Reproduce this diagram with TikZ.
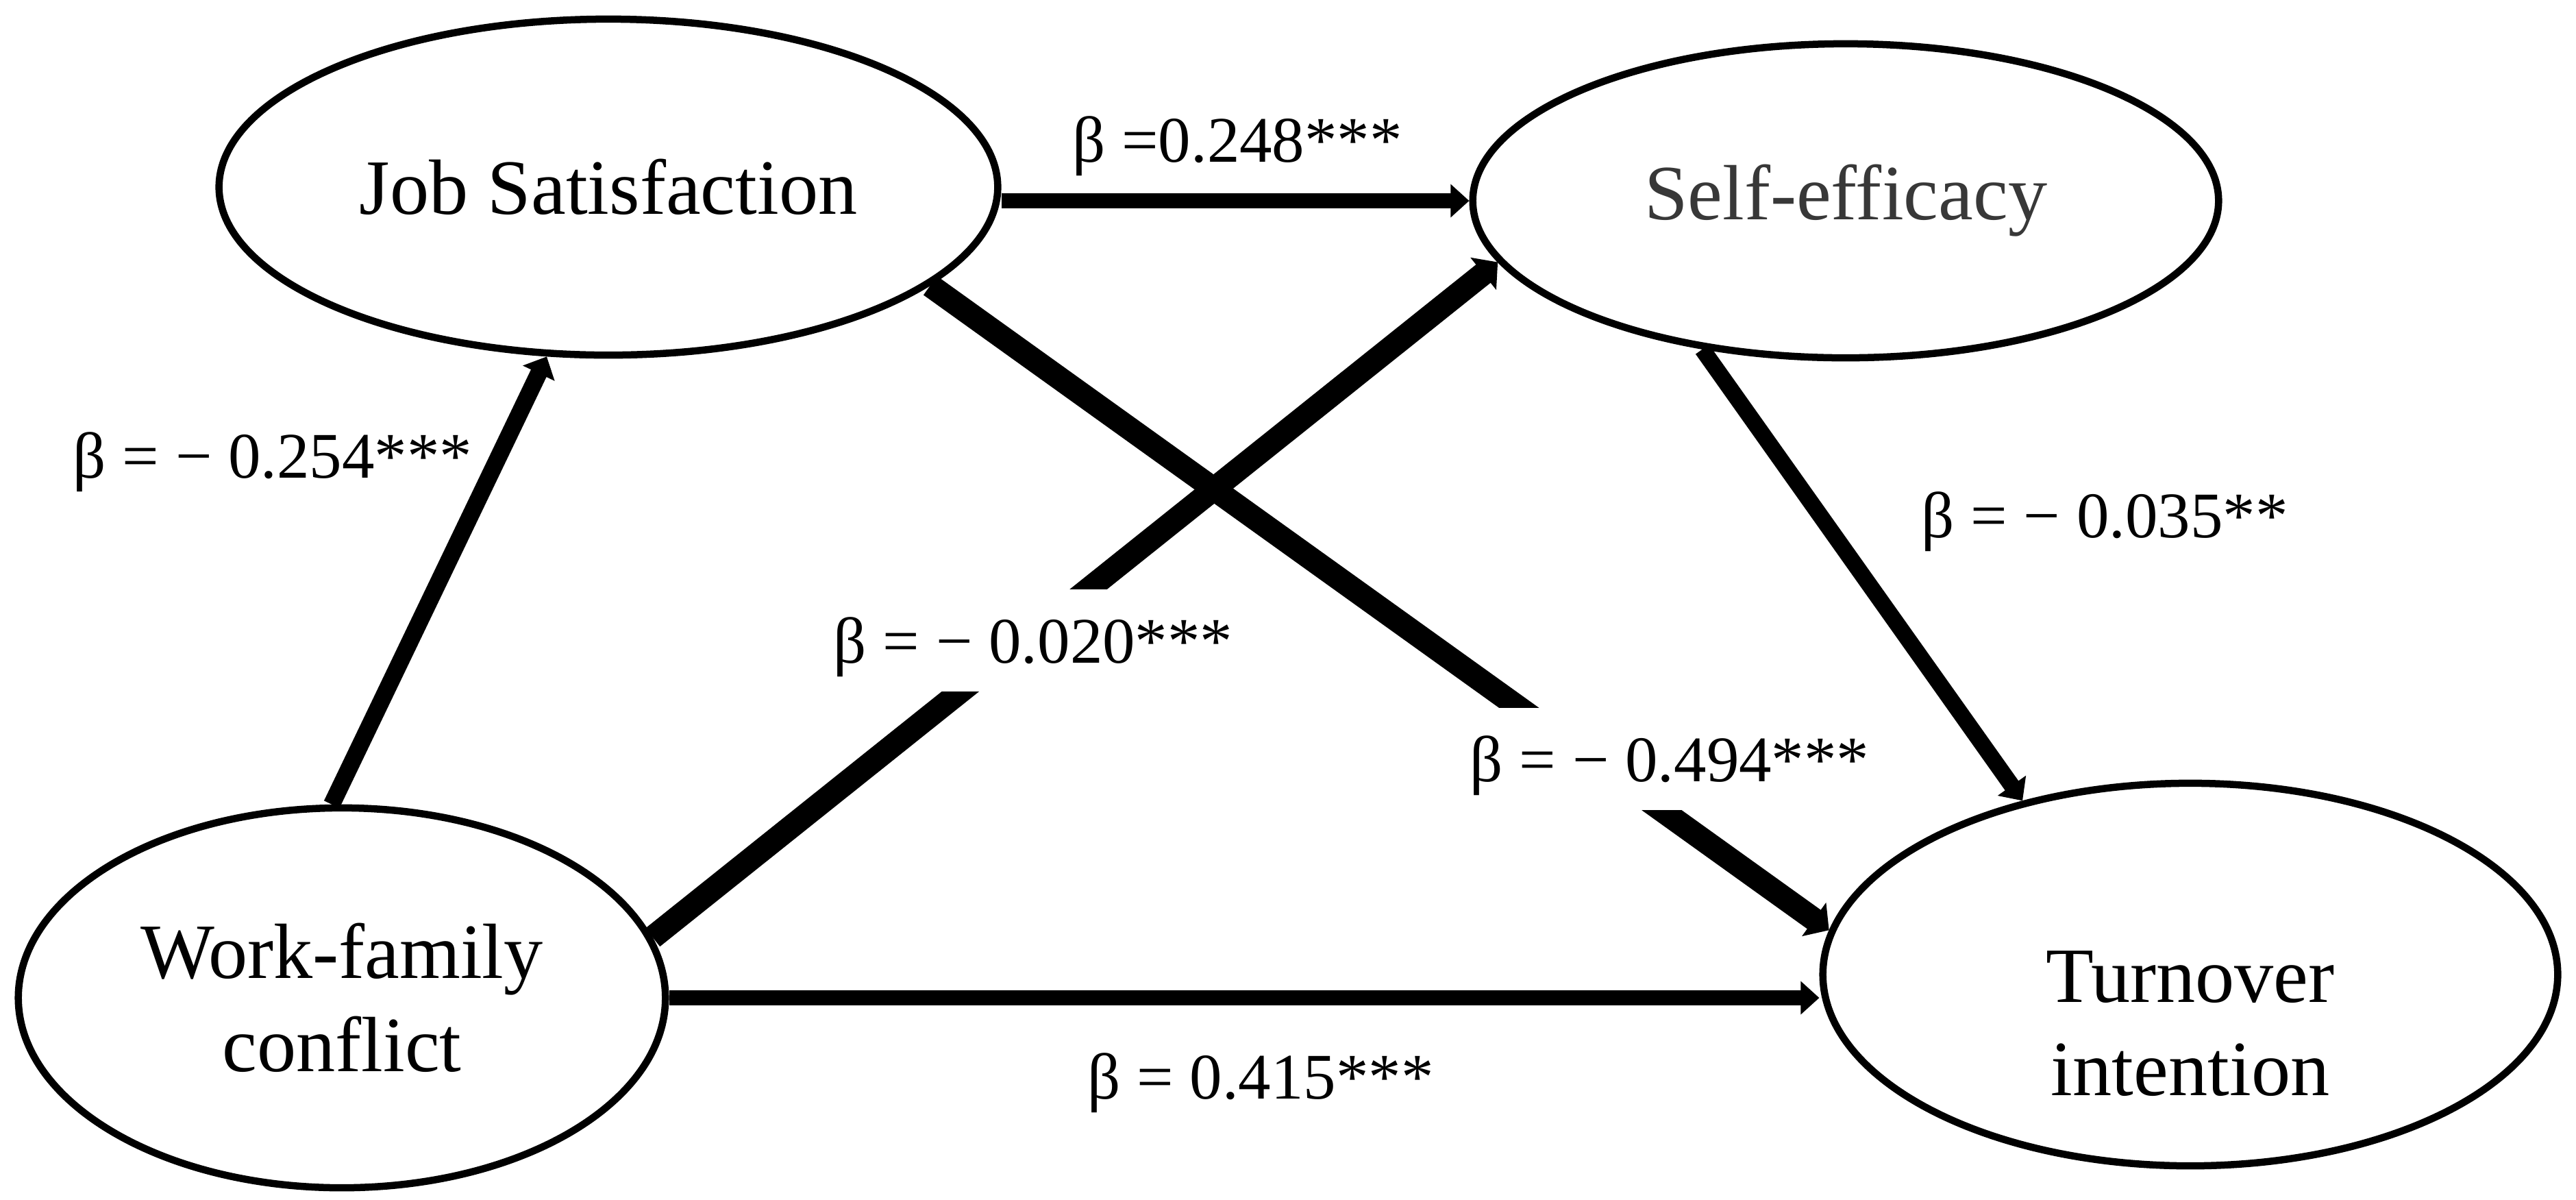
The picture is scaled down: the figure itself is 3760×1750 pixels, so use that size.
\documentclass[tikz,border=0pt]{standalone}
\usepackage{fontspec}
\setmainfont{Liberation Serif}
\usetikzlibrary{arrows.meta,shapes.geometric}
\tikzset{
	factor/.style={draw, ellipse, line width=1.05mm, inner sep=0pt, align=center, font=\fontsize{32.5}{38.7}\selectfont},
	coef/.style={anchor=base, inner sep=0pt, font=\fontsize{27}{32}\selectfont},
	coefcut/.style={coef, fill=white, inner xsep=0.15cm, text height=1.07cm, text depth=0.42cm},
	link/.style={line width=#1, -{Triangle[width=0.25cm 1, length=0.27cm]}}
}

\begin{document}
\begin{tikzpicture}[x=0.01cm, y=-0.01cm]
		%%%%% START %%%%%
		\useasboundingbox (0,0) rectangle (3760,1750);
		
		\node[factor, minimum width=11.36cm, minimum height=4.9cm] (js) at (888, 273) {Job Satisfaction};
		\node[factor, minimum width=10.88cm, minimum height=4.58cm, text=black!78] (se) at (2694, 293) {Self-efficacy};
		\node[factor, minimum width=9.44cm, minimum height=5.54cm] (wf) at (499, 1456) {Work-family\\conflict};
		\node[factor, minimum width=10.72cm, minimum height=5.58cm,
			label={[name=titext, font=\fontsize{32.5}{38.7}\selectfont, align=center, yshift=-0.72cm]center:Turnover\\intention}] (ti) at (3197, 1422) {};
		
		\draw[link=2.5mm] (wf.93) -- (js.-110);
		\draw[link=2.2mm] (js.east |- se.west) -- (se.west);
		\draw[link=3.4mm] (js.-17) -- (ti.173);
		\draw[link=3.4mm] (wf.11) -- (se.190);
		\draw[link=2.4mm] (se.-134) -- (ti.134);
		\draw[link=2.2mm] (wf.east) -- (wf.east -| ti.west);
		
		\node[coef] (bwfjs) at (398, 697) {β = − 0.254***};
		\node[coef] (bjsse) at (1806, 236) {β =0.248***};
		\node[coefcut] (bwfse) at (1508, 967) {β = − 0.020***};
		\node[coefcut] (bjsti) at (2437, 1140) {β = − 0.494***};
		\node[coef] (bseti) at (3072, 784) {β = − 0.035**};
		\node[coef] (bwfti) at (1840, 1603) {β = 0.415***};
		
		%%%%% END %%%%%
	\end{tikzpicture}
\end{document}
